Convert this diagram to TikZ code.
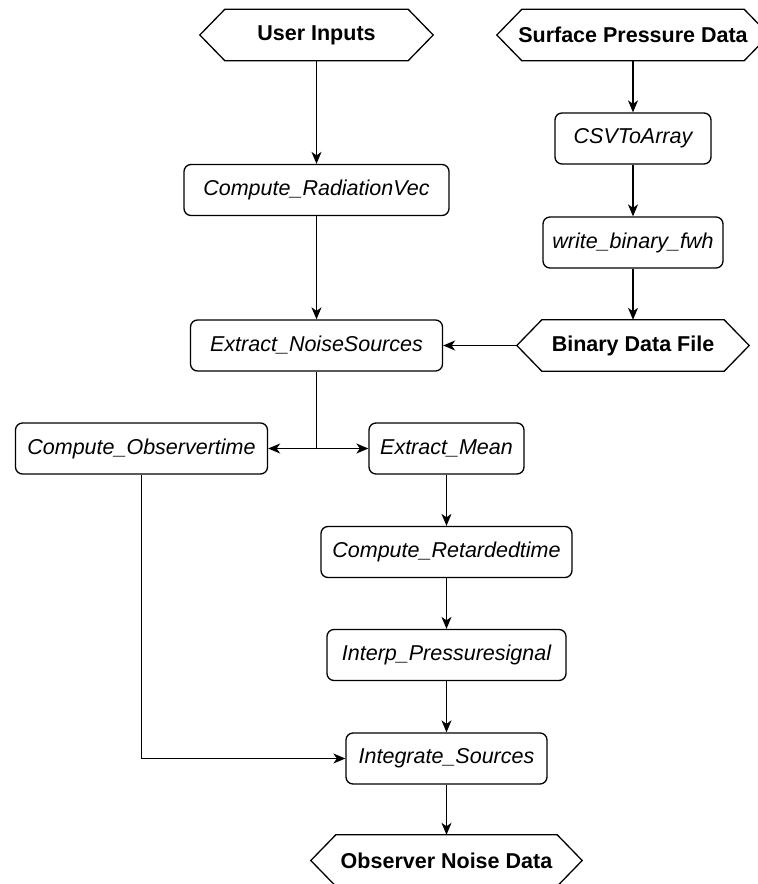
\documentclass[tikz,border=0pt]{standalone}
\usepackage{fontspec}
\setmainfont{Liberation Sans}
\usetikzlibrary{arrows.meta}
\begin{document}
\begin{tikzpicture}[x=1pt,y=-1pt,
  every node/.style={font=\fontsize{21.5}{25}\selectfont, inner sep=0pt},
  proc/.style={draw, line width=1.3pt, rounded corners=7pt, minimum height=51pt, font=\fontsize{21.5}{25}\selectfont\itshape},
  hexn/.style={minimum height=51pt, font=\fontsize{21.5}{25}\selectfont\bfseries},
  conn/.style={line width=1.3pt},
  arr/.style={conn, -{Stealth[length=12pt,width=10pt,inset=3.5pt]}},
  dblarr/.style={conn, {Stealth[length=12pt,width=10pt,inset=3.5pt]}-{Stealth[length=12pt,width=10pt,inset=3.5pt]}}
]
\useasboundingbox (0,0) rectangle (758,884);
% hexagon terminals
\node[hexn, minimum width=233pt] (ui) at (316.5,35) {User Inputs};
\node[hexn, minimum width=272pt] (spd) at (633,35) {Surface Pressure Data};
\node[hexn, minimum width=232pt] (bdf) at (633,345.5) {Binary Data File};
\node[hexn, minimum width=271pt] (ond) at (446.5,860.5) {Observer Noise Data};
\foreach \n in {ui,spd,bdf,ond}
  \draw[conn, line join=miter] (\n.west) -- ([xshift=25pt]\n.north west) -- ([xshift=-25pt]\n.north east) -- (\n.east) -- ([xshift=-25pt]\n.south east) -- ([xshift=25pt]\n.south west) -- cycle;
% process boxes
\node[proc, minimum width=265pt] (crv) at (316.5,190) {Compute\_RadiationVec};
\node[proc, minimum width=156pt] (csv) at (633,138.5) {CSVToArray};
\node[proc, minimum width=180pt] (wbf) at (633,242.5) {write\_binary\_fwh};
\node[proc, minimum width=252pt] (ens) at (316.5,345.5) {Extract\_NoiseSources};
\node[proc, minimum width=252pt] (cot) at (141.5,448.5) {Compute\_Observertime};
\node[proc, minimum width=155pt] (em) at (446.5,448.5) {Extract\_Mean};
\node[proc, minimum width=251pt] (crt) at (446.5,552) {Compute\_Retardedtime};
\node[proc, minimum width=239pt] (ips) at (446.5,655) {Interp\_Pressuresignal};
\node[proc, minimum width=201pt] (is) at (446.5,758.5) {Integrate\_Sources};
% connectors
\draw[arr] (ui.south) -- (crv.north);
\draw[arr] (crv.south) -- (ens.north);
\draw[arr] (spd.south) -- (csv.north);
\draw[arr] (csv.south) -- (wbf.north);
\draw[arr] (wbf.south) -- (bdf.north);
\draw[arr] (bdf.west) -- (ens.east);
\draw[arr] (ens.south) |- (cot.east);
\draw[arr] (ens.south) |- (em.west);
\draw[arr] (em.south) -- (crt.north);
\draw[arr] (crt.south) -- (ips.north);
\draw[arr] (ips.south) -- (is.north);
\draw[arr] (cot.south) |- (is.west);
\draw[arr] (is.south) -- (ond.north);
\end{tikzpicture}
\end{document}
